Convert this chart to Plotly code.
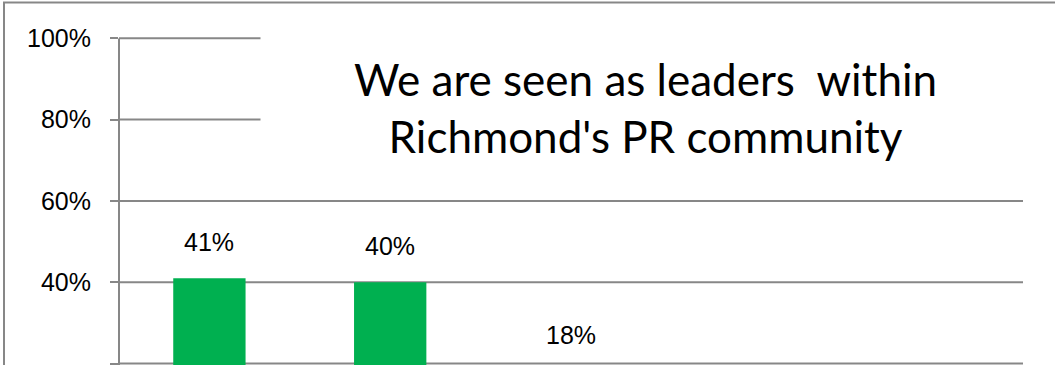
import plotly.graph_objects as go

# Survey responses for the statement
categories = ["Strongly agree", "Agree", "Neutral", "Disagree", "Strongly disagree"]
values = [41, 40, 18, 1, 0]
y_ticks = [20, 40, 60, 80, 100]
y_tick_labels = ["20%", "40%", "60%", "80%", "100%"]
title_lines = ["We are seen as leaders\u00a0 within", "Richmond's PR community"]

GRID = "#878787"
GREEN = "#00B050"
W, H = 1055, 365
L, R, T, B = 119, 0, 37, 0
CAT_PX = 180.8          # width of one category slot in pixels
GRID_END = 1023         # right end of the horizontal gridlines
LABEL_OFFSET = 9        # value labels sit this many % units above each bar

plot_w = W - L - R
plot_h = H - T - B

def px_x(p):
    return (p - L) / plot_w

def px_y(p):
    return (H - B - p) / plot_h

fig = go.Figure()
fig.add_trace(go.Bar(
    x=categories, y=values, marker_color=GREEN, marker_line_width=0,
))

# value labels above the bars
for c, v in zip(categories[:3], values[:3]):
    fig.add_annotation(
        x=c, y=v + LABEL_OFFSET, xref="x", yref="y", text=f"{v}%",
        showarrow=False, font=dict(family="Liberation Sans, Arial", size=25, color="#000"),
        yanchor="middle",
    )

# horizontal gridlines at each tick value
for t in y_ticks:
    fig.add_shape(type="line", xref="paper", yref="y",
                  x0=0, x1=px_x(GRID_END), y0=t, y1=t,
                  line=dict(color=GRID, width=2), layer="below")

# vertical value axis line
fig.add_shape(type="line", xref="paper", yref="paper",
              x0=0, x1=0, y0=-0.2, y1=px_y(38.5),
              line=dict(color=GRID, width=2), layer="above")

# outer chart border: left and top edges
fig.add_shape(type="line", xref="paper", yref="paper",
              x0=px_x(4), x1=px_x(4), y0=px_y(420), y1=px_y(2.5),
              line=dict(color=GRID, width=2), layer="above")
fig.add_shape(type="line", xref="paper", yref="paper",
              x0=px_x(3), x1=px_x(1070), y0=px_y(2.5), y1=px_y(2.5),
              line=dict(color=GRID, width=2), layer="above")

# title box
fig.add_shape(type="rect", xref="paper", yref="paper",
              x0=px_x(261), x1=px_x(1040), y0=px_y(170), y1=px_y(20),
              line=dict(color="white", width=1), fillcolor="white", layer="above")
fig.add_annotation(
    xref="paper", yref="paper", x=px_x(645), y=px_y(108),
    text="<br>".join(title_lines), showarrow=False, align="center",
    font=dict(family="Lato", size=44, color="#000"),
    xanchor="center", yanchor="middle",
)

fig.update_layout(
    template="none",
    width=W, height=H,
    margin=dict(l=L, r=R, t=T, b=B, pad=0),
    paper_bgcolor="white", plot_bgcolor="white",
    showlegend=False, bargap=0.6, hovermode=False,
)
fig.update_xaxes(visible=False, range=[-0.5, -0.5 + plot_w / CAT_PX])
fig.update_yaxes(
    range=[19.64, 100.3], tickmode="array", tickvals=y_ticks, ticktext=y_tick_labels,
    showgrid=False, showline=False,
    ticks="outside", ticklen=8, tickcolor=GRID, tickwidth=2,
    tickfont=dict(family="Liberation Sans, Arial", size=25, color="#000"),
    ticklabelstandoff=14, zeroline=False,
)

fig.write_html("out.html", config={"displayModeBar": False})
